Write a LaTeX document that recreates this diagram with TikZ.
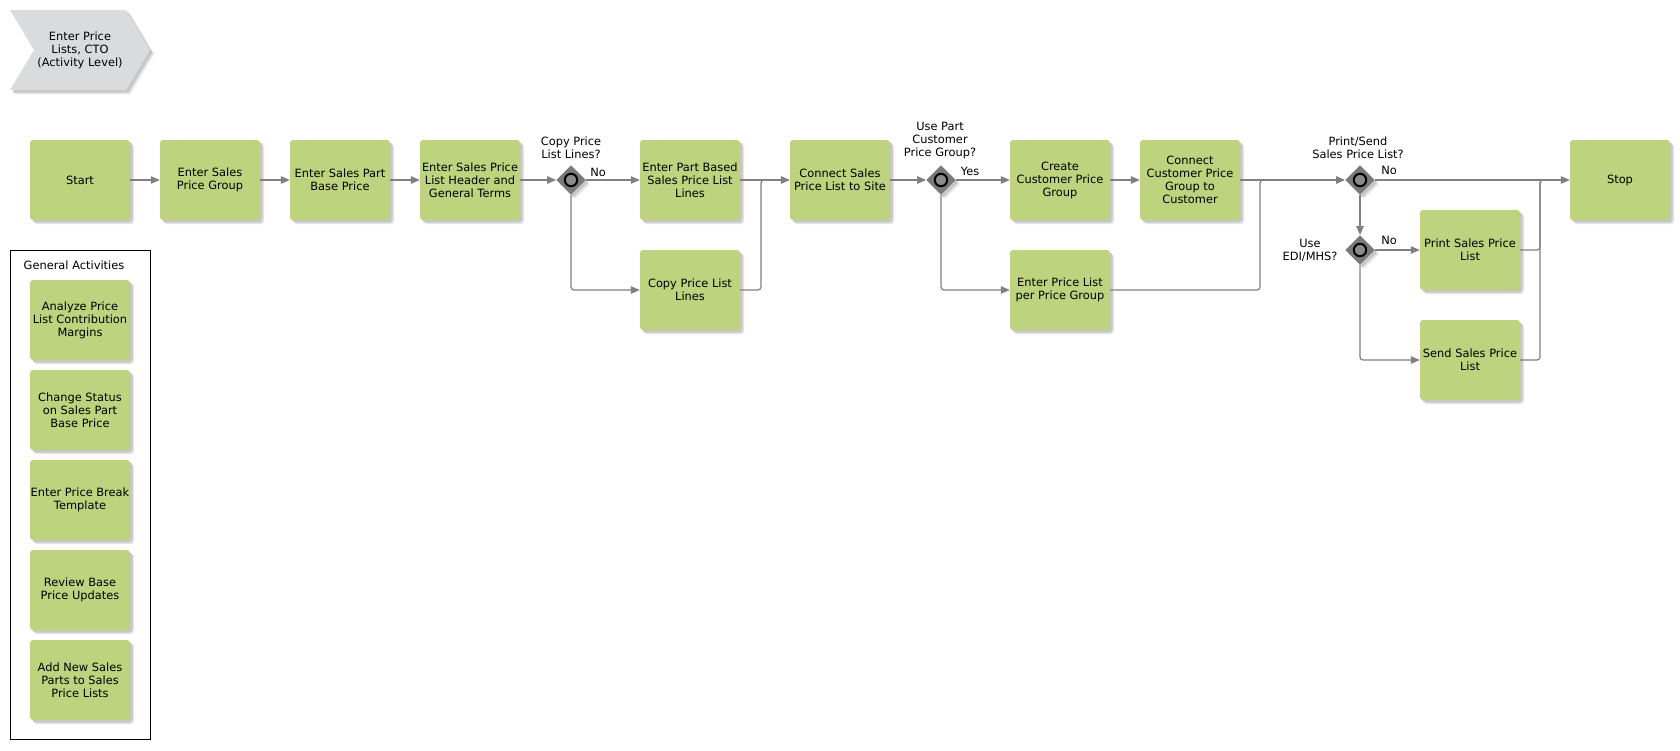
\documentclass[tikz,border=0pt]{standalone}
\usepackage{fontspec}
\setmainfont{DejaVu Sans}
\usetikzlibrary{shapes.geometric,arrows.meta,shadows,calc}
\definecolor{boxgreen}{RGB}{189,211,125}
\definecolor{chevgray}{RGB}{218,219,221}
\definecolor{gwgray}{RGB}{122,122,122}
\definecolor{circgray}{RGB}{138,138,138}
\definecolor{linegray}{RGB}{128,128,128}
\tikzset{
  txt/.style={font=\fontsize{11.4}{13}\selectfont, align=center, inner sep=0pt},
  shad/.style={general shadow={shadow xshift=4pt, shadow yshift=-4pt, fill=black!10, draw=none},
               general shadow={shadow xshift=2.5pt, shadow yshift=-2.5pt, fill=black!22, draw=none}},
  actbox/.style={txt, rectangle, rounded corners=3pt, fill=boxgreen, minimum width=100pt, minimum height=80pt, shad},
  gw/.style={diamond, aspect=1, fill=gwgray, minimum width=29.5pt, minimum height=29.5pt, inner sep=0pt, shad,
             path picture={\draw[line width=2pt, fill=circgray] (path picture bounding box.center) circle (6.2pt);}},
  flow/.style={draw=linegray, line width=1.2pt, rounded corners=3pt, -{Triangle[length=9pt,width=7.5pt]}},
  flowplain/.style={draw=linegray, line width=1.2pt, rounded corners=3pt},
  lbl/.style={txt}
}
\begin{document}
\begin{tikzpicture}[x=1pt,y=-1pt]
\useasboundingbox (0,0) rectangle (1680,750);
\fill[white] (0,0) rectangle (1680,750);

% chevron
\path[fill=chevgray, shad] (10,10) -- (126,10) -- (150,50) -- (126,90) -- (10,90) -- (34,50) -- cycle;
\node[txt] (chev) at (80,50) {Enter Price\\Lists, CTO\\(Activity Level)};

% main row
\node[actbox] (start) at (80,180) {Start};
\node[actbox] (espg) at (210,180) {Enter Sales\\Price Group};
\node[actbox] (espbp) at (340,180) {Enter Sales Part\\Base Price};
\node[actbox] (esplh) at (470,180) {Enter Sales Price\\List Header and\\General Terms};
\node[gw] (g1) at (571,180) {};
\node[actbox] (epb) at (690,180) {Enter Part Based\\Sales Price List\\Lines};
\node[actbox] (copy) at (690,290) {Copy Price List\\Lines};
\node[actbox] (conn) at (840,180) {Connect Sales\\Price List to Site};
\node[gw] (g2) at (941,180) {};
\node[actbox] (ccpg) at (1060,180) {Create\\Customer Price\\Group};
\node[actbox] (eplpg) at (1060,290) {Enter Price List\\per Price Group};
\node[actbox] (cpgc) at (1190,180) {Connect\\Customer Price\\Group to\\Customer};
\node[gw] (g3) at (1360,180) {};
\node[gw] (g4) at (1360,250) {};
\node[actbox] (print) at (1470,250) {Print Sales Price\\List};
\node[actbox] (send) at (1470,360) {Send Sales Price\\List};
\node[actbox] (stop) at (1620,180) {Stop};

% junctions
\coordinate (j1) at (761,180);
\coordinate (j2) at (1260,180);
\coordinate (j3) at (1540,180);

% labels
\node[lbl] (l1) at (571,147.5) {Copy Price\\List Lines?};
\node[lbl] (l1n) at (598,172) {No};
\node[lbl] (l2) at (940,140.5) {Use Part\\Customer\\Price Group?};
\node[lbl] (l2y) at (970,171) {Yes};
\node[lbl] (l3) at (1358,147.5) {Print/Send\\Sales Price List?};
\node[lbl] (l3n) at (1389,170) {No};
\node[lbl] (l4) at (1310,250.5) {Use\\EDI/MHS?};
\node[lbl] (l4n) at (1389,240) {No};

% connectors
\draw[flow] (start) -- (espg);
\draw[flow] (espg) -- (espbp);
\draw[flow] (espbp) -- (esplh);
\draw[flow] (esplh) -- (g1.west);
\draw[flow] (g1.east) -- (epb);
\draw[flow] (g1.south) |- (copy.west);
\draw[flow] (epb) -- (conn);
\draw[flowplain] (copy.east) -| (j1) -- ($(j1)+(10,0)$);
\draw[flow] (conn) -- (g2.west);
\draw[flow] (g2.east) -- (ccpg);
\draw[flow] (g2.south) |- (eplpg.west);
\draw[flow] (ccpg) -- (cpgc);
\draw[flow] (cpgc) -- (g3.west);
\draw[flowplain] (eplpg.east) -| (j2) -- ($(j2)+(10,0)$);
\draw[flow] (g3.east) -- (stop.west);
\draw[flow] (g3.south) -- (g4.north);
\draw[flow] (g4.east) -- (print.west);
\draw[flow] (g4.south) |- (send.west);
\draw[flowplain] (print.east) -| (j3) -- ($(j3)+(10,0)$);
\draw[flowplain] (send.east) -| (j3) -- ($(j3)+(10,0)$);

% general activities
\draw[black, line width=1pt] (10.5,250.5) rectangle (150.5,739.5);
\node[txt] (gat) at (74,265) {General Activities};
\node[actbox] (ga1) at (80,320) {Analyze Price\\List Contribution\\Margins};
\node[actbox] (ga2) at (80,410) {Change Status\\on Sales Part\\Base Price};
\node[actbox] (ga3) at (80,500) {Enter Price Break\\Template};
\node[actbox] (ga4) at (80,590) {Review Base\\Price Updates};
\node[actbox] (ga5) at (80,680) {Add New Sales\\Parts to Sales\\Price Lists};
\end{tikzpicture}
\end{document}
